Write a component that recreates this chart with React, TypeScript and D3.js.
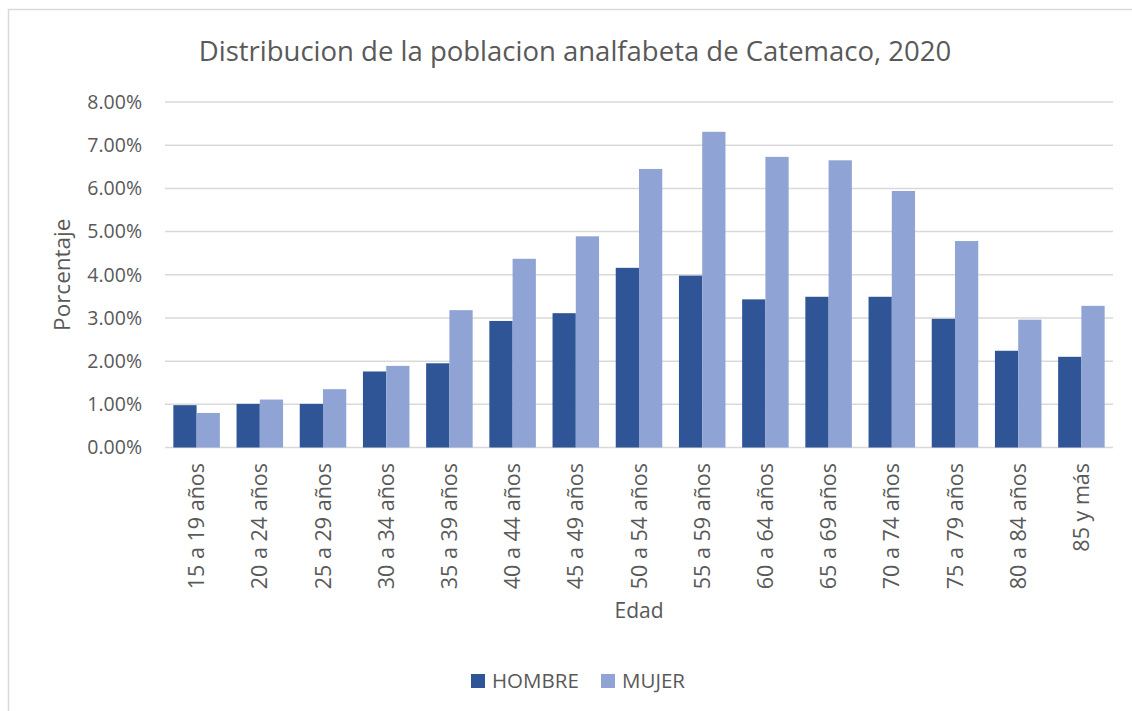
import React from "react";
import * as d3 from "d3";

const categories = [
  "15 a 19 años", "20 a 24 años", "25 a 29 años", "30 a 34 años", "35 a 39 años",
  "40 a 44 años", "45 a 49 años", "50 a 54 años", "55 a 59 años", "60 a 64 años",
  "65 a 69 años", "70 a 74 años", "75 a 79 años", "80 a 84 años", "85 y más",
];
const hombre = [0.98, 1.01, 1.01, 1.76, 1.95, 2.93, 3.11, 4.16, 3.98, 3.43, 3.49, 3.49, 2.98, 2.24, 2.1];
const mujer = [0.8, 1.11, 1.35, 1.89, 3.18, 4.37, 4.89, 6.45, 7.31, 6.73, 6.65, 5.94, 4.78, 2.96, 3.28];
const seriesNames = ["HOMBRE", "MUJER"];
const seriesColors = ["#2F5597", "#8FA3D4"];
const yTicks = [0, 1, 2, 3, 4, 5, 6, 7, 8];

const W = 1132;
const H = 711;
const left = 165;
const right = 1113;
const top = 102;
const bottom = 447.5;
const FONT = "'Open Sans', sans-serif";
const TXT = "#595959";

export default function App() {
  const x = d3.scaleBand<string>().domain(categories).range([left, right]).paddingInner(0.264).paddingOuter(0.132);
  const xs = d3.scaleBand<string>().domain(seriesNames).range([0, x.bandwidth()]).padding(0);
  const y = d3.scaleLinear().domain([0, 8]).range([bottom, top]);
  const series = [hombre, mujer];

  return (
    <svg width={W} height={H} style={{ position: "absolute", left: 0, top: 0, background: "#fff" }} fontFamily={FONT}>
      <rect x={8.5} y={9.5} width={1200} height={800} fill="#fff" stroke="#d9d9d9" strokeWidth={1.5} />
      <text x={575} y={61} textAnchor="middle" fontSize={27.5} fill={TXT}>
        Distribucion de la poblacion analfabeta de Catemaco, 2020
      </text>
      {yTicks.map((t) => (
        <g key={t}>
          <line x1={left} x2={right} y1={y(t)} y2={y(t)} stroke="#d9d9d9" strokeWidth={1.5} />
          <text x={142} y={y(t)} dy="0.35em" textAnchor="end" fontSize={19.5} fill={TXT}>
            {t.toFixed(2)}%
          </text>
        </g>
      ))}
      {categories.map((c, i) => (
        <g key={c}>
          {series.map((s, j) => (
            <rect
              key={j}
              x={(x(c) as number) + (xs(seriesNames[j]) as number)}
              y={y(s[i])}
              width={xs.bandwidth()}
              height={y(0) - y(s[i])}
              fill={seriesColors[j]}
            />
          ))}
          <text
            transform={`translate(${(x(c) as number) + x.bandwidth() / 2},${463}) rotate(-90)`}
            dy="0.35em"
            textAnchor="end"
            fontSize={21.5}
            fill={TXT}
          >
            {c}
          </text>
        </g>
      ))}
      <text transform={`translate(62,${(top + bottom) / 2}) rotate(-90)`} dy="0.35em" textAnchor="middle" fontSize={22.5} fill={TXT}>
        Porcentaje
      </text>
      <text x={(left + right) / 2} y={618} textAnchor="middle" fontSize={21} fill={TXT}>
        Edad
      </text>
      {seriesNames.map((n, j) => {
        const lx = [471, 601][j];
        return (
          <g key={n}>
            <rect x={lx} y={674} width={14} height={14} fill={seriesColors[j]} />
            <text x={lx + 21} y={688} fontSize={20.5} fill={TXT}>
              {n}
            </text>
          </g>
        );
      })}
    </svg>
  );
}
